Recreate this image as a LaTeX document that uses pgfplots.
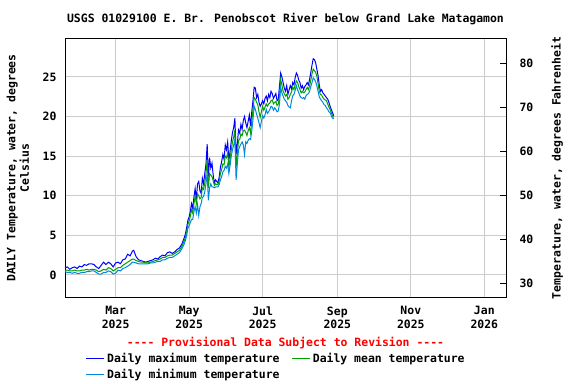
\documentclass[border=0pt]{standalone}
\usepackage{fontspec}
\setmainfont{DejaVu Sans Mono}
\usepackage{pgfplots}
\pgfplotsset{compat=1.18}
\usepackage{pgfplotstable}
\definecolor{cmax}{RGB}{0,0,255}
\definecolor{cmean}{RGB}{0,160,0}
\definecolor{cmin}{RGB}{0,136,221}
\definecolor{gridc}{RGB}{204,204,204}
\newcommand\f{\bfseries\fontsize{11.5}{13.5}\selectfont}

\pgfplotstableread{
day max mean min
17 0.9 0.6 0.4
19 1.0 0.6 0.3
21 0.7 0.5 0.3
23 0.9 0.5 0.2
25 1.0 0.6 0.3
27 0.8 0.5 0.2
29 1.1 0.5 0.2
31 1.0 0.6 0.3
33 1.3 0.6 0.3
35 1.2 0.7 0.4
37 1.4 0.6 0.4
39 1.4 0.7 0.5
41 1.3 0.7 0.5
43 1.0 0.6 0.3
45 0.8 0.4 0.1
47 1.2 0.5 0.1
49 1.6 0.7 0.3
51 1.3 0.6 0.3
53 1.6 0.9 0.5
55 1.4 0.8 0.4
57 1.0 0.5 0.1
59 1.5 0.7 0.2
61 1.6 0.9 0.6
63 1.4 0.9 0.5
65 1.9 1.2 0.8
67 2.0 1.4 0.9
69 2.6 1.6 1.1
71 2.4 1.8 1.3
73 3.0 2.0 1.6
74 3.1 2.0 1.6
76 2.3 1.8 1.5
78 1.9 1.7 1.4
80 1.8 1.6 1.4
82 1.7 1.6 1.4
84 1.6 1.5 1.4
86 1.7 1.5 1.4
88 1.8 1.6 1.5
90 1.9 1.7 1.5
92 2.1 1.8 1.6
94 2.0 1.9 1.7
96 2.3 2.0 1.7
98 2.5 2.2 1.9
100 2.4 2.2 1.9
102 2.8 2.4 2.1
104 2.9 2.5 2.2
106 2.7 2.5 2.2
108 2.9 2.7 2.4
110 3.2 2.9 2.6
112 3.4 3.1 2.8
114 3.9 3.6 3.3
116 4.7 4.3 3.9
117 5.2 4.8 4.4
118 6.0 5.5 5.0
119 6.9 6.4 5.9
120 7.3 6.8 6.2
121 8.0 7.4 6.6
122 9.0 8.2 7.0
123 8.4 7.8 7.0
124 9.8 9.0 8.0
125 10.9 9.9 8.6
126 9.5 9.0 7.8
127 11.5 10.2 8.9
128 11.8 10.0 7.5
129 10.6 9.6 8.6
130 10.3 9.8 9.0
131 12.2 11.0 9.8
132 11.5 10.8 9.9
133 12.8 11.6 10.5
134 14.0 12.8 11.5
135 16.5 14.5 12.8
136 12.4 11.0 9.4
137 14.8 12.8 11.0
138 13.5 12.6 11.5
139 14.1 12.4 11.1
140 12.6 11.9 11.1
141 11.6 11.3 11.0
142 12.0 11.5 11.1
143 11.8 11.4 11.1
144 11.6 11.4 11.1
145 12.4 11.9 11.4
146 13.6 12.8 12.0
147 14.3 13.3 12.4
148 15.2 14.0 13.0
149 14.6 13.9 13.2
150 16.4 15.0 13.7
151 15.8 14.8 13.5
152 16.8 15.4 14.0
153 14.5 13.6 12.8
154 15.6 14.6 13.8
155 16.9 15.8 15.0
156 18.0 16.8 15.8
157 18.6 17.4 16.4
158 19.8 18.3 17.1
159 15.2 13.6 12.0
160 16.5 15.2 14.0
161 18.3 17.0 15.8
162 17.9 17.1 16.2
163 19.0 17.8 16.5
164 18.4 17.6 16.8
165 19.5 18.2 16.4
166 20.0 18.3 15.2
167 19.2 18.0 16.8
168 18.6 17.6 16.6
169 19.4 18.2 17.0
170 20.2 18.6 17.2
171 18.8 17.9 17.1
172 20.6 19.4 18.2
173 22.0 20.8 19.6
174 23.7 22.4 21.3
175 23.6 22.2 20.9
176 22.4 21.8 20.3
177 22.8 21.5 19.8
178 21.8 20.6 19.2
179 21.3 19.9 18.6
180 21.6 20.6 19.4
181 22.0 21.3 20.1
182 21.6 20.8 19.8
183 22.3 21.2 20.2
184 22.6 21.6 20.9
185 22.0 21.3 20.4
186 22.8 21.6 20.6
187 22.4 21.7 20.9
188 23.2 22.0 21.3
189 22.9 22.1 21.2
190 22.3 21.6 20.8
191 22.6 21.8 21.1
192 22.9 21.9 20.9
193 22.0 21.4 20.6
194 22.2 21.6 20.7
195 23.8 22.6 21.6
196 25.5 24.7 23.7
197 25.0 24.0 23.0
198 24.3 23.2 22.6
199 23.6 22.9 22.2
200 23.2 22.6 22.0
201 23.9 22.8 21.8
202 22.8 22.2 21.4
203 23.4 22.4 21.2
204 23.9 22.8 21.1
205 23.5 23.1 22.0
206 24.3 23.7 22.6
207 24.0 23.4 22.8
208 24.9 24.0 23.3
209 25.5 24.5 23.9
210 25.2 24.3 23.4
211 24.6 23.8 23.0
212 24.3 23.4 22.6
213 23.6 23.0 22.4
214 23.9 23.2 22.3
215 23.4 23.0 22.4
216 23.8 23.1 22.2
217 24.0 23.4 22.6
218 24.3 23.7 22.8
219 24.0 23.4 22.9
220 24.7 23.9 23.2
221 25.6 24.6 23.8
222 26.5 25.4 24.3
223 27.3 26.0 24.9
224 27.2 25.8 24.7
225 26.8 25.6 24.4
226 26.0 25.1 23.9
227 25.2 24.2 23.2
228 24.0 23.2 22.5
229 23.2 22.8 22.2
230 23.4 22.7 22.0
231 23.0 22.4 21.8
232 22.8 22.2 21.5
233 22.6 22.1 21.4
234 22.4 22.0 21.1
235 22.2 21.6 20.9
236 21.8 21.2 20.6
237 21.3 20.9 20.5
238 20.9 20.5 20.1
239 20.5 20.1 19.8
240 20.1 19.9 19.7
}\temps

\begin{document}
\begin{tikzpicture}
\path[use as bounding box] (0,0) rectangle (576bp,384bp);
\begin{axis}[
  at={(65bp,87bp)}, anchor=south west,
  scale only axis, width=441bp, height=258bp,
  xmin=17, xmax=383, ymin=-2.8, ymax=29.8,
  axis line style={line width=1bp},
  xtick={59,120,181,243,304,365},
  xticklabels={Mar\\2025,May\\2025,Jul\\2025,Sep\\2025,Nov\\2025,Jan\\2026},
  xticklabel style={align=center, font=\f, yshift=-6bp},
  ytick={0,5,10,15,20,25},
  yticklabel style={font=\f, xshift=-5bp},
  /pgf/number format/assume math mode=true,
  major tick length=0pt,
  xtick pos=bottom, ytick pos=left,
  grid=major,
  grid style={gridc, line width=1bp},
  ylabel={DAILY Temperature, water, degrees\\Celsius},
  ylabel style={align=center, font=\f, at={(axis description cs:-0.107,0.5)}, anchor=center},
  legend style={at={(axis description cs:0.04,-0.2)}, anchor=north west,
    draw=none, fill=none, font=\f, legend columns=2,
    nodes={inner xsep=2bp},
    /tikz/every even column/.append style={column sep=10bp},
    row sep=1.5bp},
  legend image code/.code={\draw[#1, line width=1.3bp] (0bp,0bp) -- (18bp,0bp);},
  clip mode=individual,
]
\addplot[color=cmax, line width=1bp] table[x=day, y=max] {\temps};
\addlegendentry{Daily maximum temperature}
\addplot[color=cmean, line width=1bp] table[x=day, y=mean] {\temps};
\addlegendentry{Daily mean temperature}
\addplot[color=cmin, line width=1bp] table[x=day, y=min] {\temps};
\addlegendentry{Daily minimum temperature}
\node[font=\f, anchor=center] at (axis description cs:0.5,1.078) {USGS 01029100 E. Br. Penobscot River below Grand Lake Matagamon};
\node[font=\f, text=red, anchor=center] at (axis description cs:0.5,-0.18) {-{}-{}-{}- Provisional Data Subject to Revision -{}-{}-{}-};
\end{axis}
\begin{axis}[
  at={(65bp,87bp)}, anchor=south west,
  scale only axis, width=441bp, height=258bp,
  xmin=17, xmax=383, ymin=26.96, ymax=85.64,
  axis x line=none, axis y line*=right,
  axis line style={line width=1bp},
  ytick={30,40,50,60,70,80},
  yticklabel style={font=\f},
  yticklabel shift=10bp,
  /pgf/number format/assume math mode=true,
  tick align=inside, major tick length=6bp,
  tick style={black, line width=1bp},
  ylabel={Temperature, water, degrees Fahrenheit},
  ylabel style={font=\f, at={(axis description cs:1.116,0.5)}, anchor=center, rotate=0},
]
\addplot[draw=none] coordinates {(17,30)};
\end{axis}
\end{tikzpicture}
\end{document}
